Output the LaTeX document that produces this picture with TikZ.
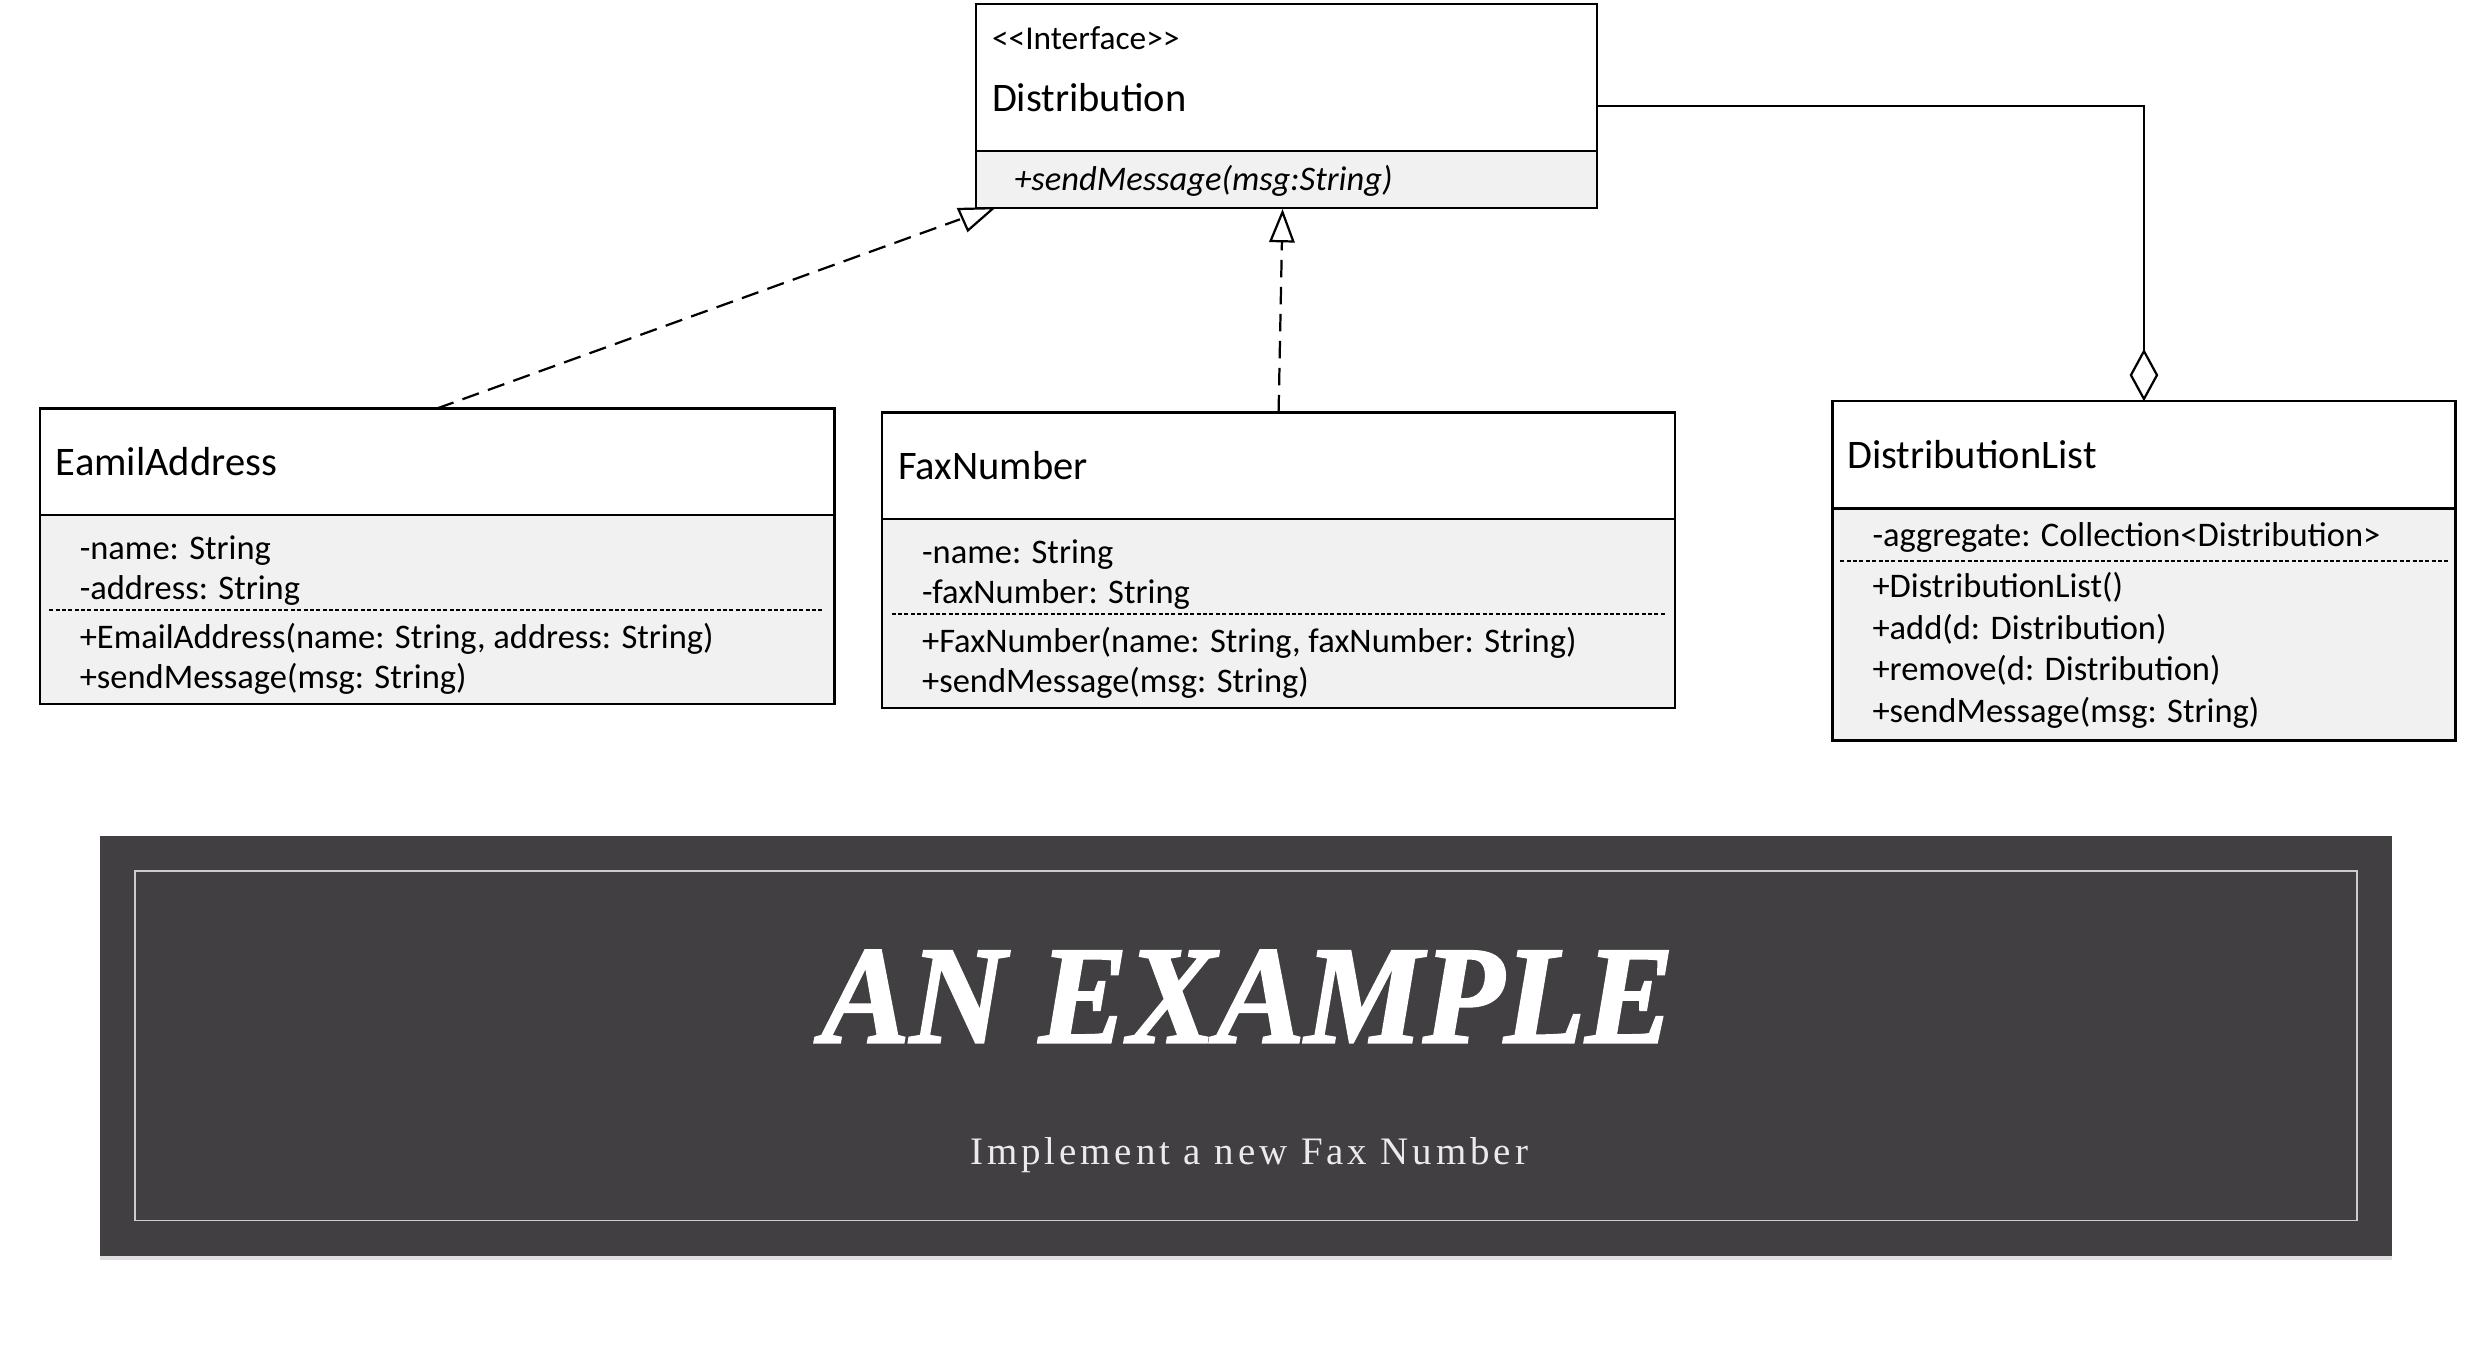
\documentclass[tikz,border=0pt]{standalone}
\usepackage{fontspec}
\setmainfont{Carlito}
\newfontfamily\bannerfont{Liberation Serif}
\usetikzlibrary{arrows.meta,calc,shadows}
\definecolor{memb}{RGB}{241,241,241}
\definecolor{bannerbg}{RGB}{65,63,66}
\definecolor{bannerline}{RGB}{205,205,205}
\begin{document}
\begin{tikzpicture}[x=1pt,y=-1pt,
  titlebox/.style={draw, line width=1.5pt, fill=white, inner sep=0pt, outer sep=0pt, anchor=north west},
  membox/.style={draw, line width=1.5pt, fill=memb, inner sep=0pt, outer sep=0pt, anchor=north},
  sepline/.style={line width=1pt, dash pattern=on 2.5pt off 1.5pt},
  ttl/.style={font=\fontsize{25.5}{30}\selectfont, anchor=base west, inner sep=0pt},
  stereo/.style={font=\fontsize{21}{26}\selectfont, anchor=base west, inner sep=0pt},
  mem/.style={font=\fontsize{21.7}{26}\selectfont, anchor=base west, inner sep=0pt},
  memit/.style={font=\fontsize{21.7}{26}\selectfont\itshape, anchor=base west, inner sep=0pt},
  dep/.style={line width=1.4pt, dash pattern=on 11pt off 6pt},
  agg/.style={line width=1.4pt},
  banner/.style={fill=bannerbg, inner sep=0pt, outer sep=0pt, drop shadow={opacity=0.25, shadow xshift=0pt, shadow yshift=-3pt}},
  bannerin/.style={draw=bannerline, line width=1pt, inner sep=0pt, outer sep=0pt}
]
\fill[white] (0,0) rectangle (1568,855.7);
\useasboundingbox (0,0) rectangle (1568,855.7);

% ---------- Distribution ----------
\node[titlebox, minimum width=391pt, minimum height=92.5pt] (distT) at (614,2.5) {};
\node[membox, minimum width=391pt, minimum height=36pt] (distM) at (distT.south) {};
\node[stereo] (dist1) at (624,31) {{<}{<}Interface{>}{>}};
\node[ttl] (dist2) at (624,70) {Distribution};
\node[memit] (dist3) at (638,120) {+sendMessage(msg:String)};

% ---------- EamilAddress ----------
\node[titlebox, minimum width=500pt, minimum height=67pt] (eaT) at (25,257) {};
\node[membox, minimum width=500pt, minimum height=119pt] (eaM) at (eaT.south) {};
\draw[sepline] (31,384) -- (519,384);
\node[ttl] (ea0) at (35,299) {EamilAddress};
\node[mem] (ea1) at (50,352) {-name: String};
\node[mem] (ea2) at (50,377) {-address: String};
\node[mem] (ea3) at (50,408) {+EmailAddress(name: String, address: String)};
\node[mem] (ea4) at (50,433) {+sendMessage(msg: String)};

% ---------- FaxNumber ----------
\node[titlebox, minimum width=499pt, minimum height=67pt] (faxT) at (555,259.5) {};
\node[membox, minimum width=499pt, minimum height=119pt] (faxM) at (faxT.south) {};
\draw[sepline] (561,386.5) -- (1048,386.5);
\node[ttl] (fax0) at (565,301.5) {FaxNumber};
\node[mem] (fax1) at (580,354.5) {-name: String};
\node[mem] (fax2) at (580,379.5) {-faxNumber: String};
\node[mem] (fax3) at (580,410.5) {+FaxNumber(name: String, faxNumber: String)};
\node[mem] (fax4) at (580,435.5) {+sendMessage(msg: String)};

% ---------- DistributionList ----------
\node[titlebox, minimum width=392pt, minimum height=67.5pt] (dlT) at (1153,252.5) {};
\node[membox, minimum width=392pt, minimum height=146pt] (dlM) at (dlT.south) {};
\draw[sepline] (1158,353) -- (1540,353);
\node[ttl] (dl0) at (1162,294.5) {DistributionList};
\node[mem] (dl1) at (1178,344) {-aggregate: Collection<Distribution>};
\node[mem] (dl2) at (1178,376) {+DistributionList()};
\node[mem] (dl3) at (1178,402.5) {+add(d: Distribution)};
\node[mem] (dl4) at (1178,428) {+remove(d: Distribution)};
\node[mem] (dl5) at (1178,454.5) {+sendMessage(msg: String)};

% ---------- connectors ----------
\coordinate (rtip) at (604,138);
\coordinate (triA) at (603,131.5);
\coordinate (triB) at (625,131);
\coordinate (triC) at (609,145);
\draw[dep] (eaT.north) -- (rtip);
\draw[line width=1.4pt, fill=white, line join=miter] (triA) -- (triB) -- (triC) -- cycle;

\coordinate (dtip) at (807,131.5);
\draw[dep, -{Triangle[open, length=21pt, width=16pt, line width=1.4pt]}] (faxT.north) -- (dtip);

\coordinate (aggstart) at ($(distT.north east)!0.5!(distM.south east)$);
\draw[agg, {Diamond[open, length=33pt, width=18pt, line width=1.4pt]}-] (dlT.north) |- (aggstart);

% ---------- banner ----------
\node[banner, minimum width=1442pt, minimum height=264pt] (ban) at (784,658) {};
\node[bannerin, minimum width=1398pt, minimum height=220pt] (banIn) at (ban.center) {};
\node[font=\bannerfont\bfseries\itshape\addfontfeature{FakeStretch=0.95,FakeBold=1.5}\fontsize{88}{90}\selectfont, text=white, anchor=base, inner sep=0pt] (banT) at (785,656) {AN EXAMPLE};
\node[font=\bannerfont\addfontfeature{LetterSpace=10}\fontsize{24.5}{28}\selectfont, text=white!92!black, anchor=base, inner sep=0pt] (banS) at (786,733) {Implement a new Fax Number};
\end{tikzpicture}
\end{document}
